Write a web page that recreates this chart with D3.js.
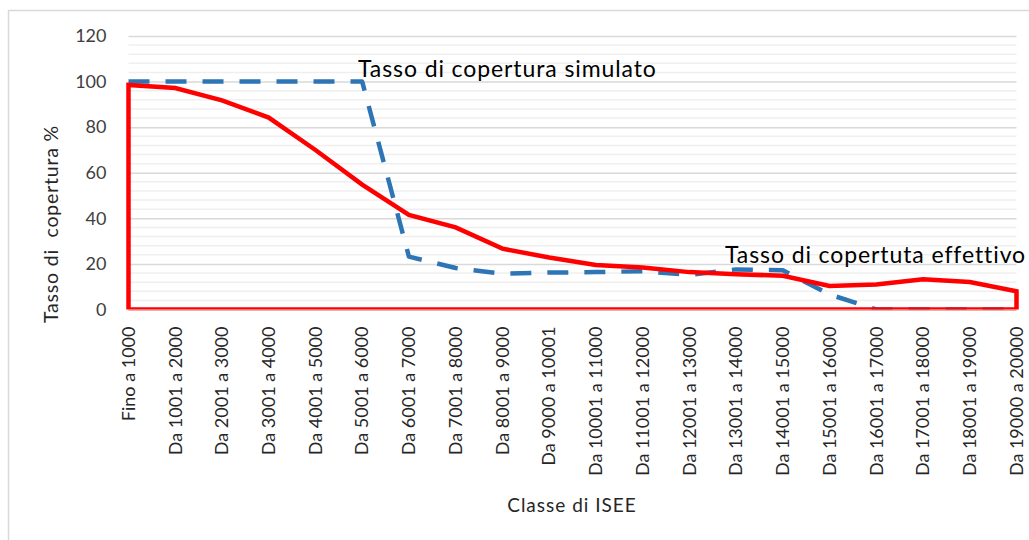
<!DOCTYPE html>
<html>
<head>
<meta charset="utf-8">
<script src="https://cdn.jsdelivr.net/npm/d3@7"></script>
<style>
  html, body { margin: 0; padding: 0; background: #fff; }
  svg { display: block; }
  text { font-family: Lato, "Open Sans", sans-serif; white-space: pre; }
</style>
</head>
<body>
<svg id="chart" width="1029" height="540"></svg>
<script>
// ---- data ----
const categories = [
  "Fino a 1000", "Da 1001 a 2000", "Da 2001 a 3000", "Da 3001 a 4000", "Da 4001 a 5000",
  "Da 5001 a 6000", "Da 6001 a 7000", "Da 7001 a 8000", "Da 8001 a 9000", "Da 9000 a 10001",
  "Da 10001 a 11000", "Da 11001 a 12000", "Da 12001 a 13000", "Da 13001 a 14000", "Da 14001 a 15000",
  "Da 15001 a 16000", "Da 16001 a 17000", "Da 17001 a 18000", "Da 18001 a 19000", "Da 19000 a 20000"
];
const effettivo = [98.5, 97.2, 91.8, 84.2, 70, 54.8, 41.5, 36, 26.7, 22.8, 19.5, 18.4, 16.4, 15.5, 14.8, 10.3, 11, 13.3, 12.1, 8];
const simulato  = [100, 100, 100, 100, 100, 100, 23.2, 18.2, 15.7, 16.2, 16.4, 16.8, 15.2, 17.6, 17.2, 6.6, 0, 0, 0, 0];
const yTicks = [0, 20, 40, 60, 80, 100, 120];
const yMinorTicks = d3.range(0, 121, 4);
const labelSimulato = "Tasso di copertura simulato";
const labelEffettivo = "Tasso di copertuta effettivo";
const yTitle = "Tasso di  copertura %";
const xTitle = "Classe di ISEE";

// ---- layout ----
const svg = d3.select("#chart");
const plot = { left: 128.5, right: 1016.5, top: 36, bottom: 309.5 };

const x = d3.scalePoint().domain(categories).range([plot.left, plot.right]).padding(0);
const y = d3.scaleLinear().domain([0, 120]).range([plot.bottom, plot.top]);

// clip at the plot area bottom (lines at 0 are half hidden)
svg.append("defs").append("clipPath").attr("id", "plotclip")
  .append("rect").attr("x", 0).attr("y", 0).attr("width", 1029).attr("height", plot.bottom);

// outer border (chart area)
svg.append("rect")
  .attr("x", 8.5).attr("y", 10.5).attr("width", 1040).attr("height", 560)
  .attr("fill", "none").attr("stroke", "#d9d9d9").attr("stroke-width", 1.5);

// minor gridlines
svg.append("g").selectAll("line")
  .data(yMinorTicks.filter(d => d % 20 !== 0))
  .join("line")
  .attr("x1", plot.left).attr("x2", plot.right)
  .attr("y1", d => y(d)).attr("y2", d => y(d))
  .attr("stroke", "#efefef").attr("stroke-width", 1.5);

// y axis (major gridlines + labels)
const yAxis = d3.axisLeft(y).tickValues(yTicks).tickSize(-(plot.right - plot.left)).tickPadding(22);
const gy = svg.append("g").attr("transform", `translate(${plot.left},0)`).call(yAxis);
gy.select(".domain").remove();
gy.selectAll(".tick line").attr("stroke", "#d9d9d9").attr("stroke-width", 1.5);
gy.selectAll(".tick text")
  .attr("fill", "#404040").style("font-size", "18px")
  .style("font-family", "Lato, sans-serif");

// x axis baseline
svg.append("line")
  .attr("x1", plot.left).attr("x2", plot.right)
  .attr("y1", y(0) + 1).attr("y2", y(0) + 1)
  .attr("stroke", "#e6b0b0").attr("stroke-width", 1);

// x axis labels
const xAxis = d3.axisBottom(x).tickSize(0).tickPadding(0);
const gx = svg.append("g").attr("transform", `translate(0,${plot.bottom})`).call(xAxis);
gx.select(".domain").remove();
gx.selectAll(".tick text")
  .attr("fill", "#262626").style("font-size", "18px")
  .style("font-family", "Lato, sans-serif")
  .attr("text-anchor", "end")
  .attr("transform", "rotate(-90)")
  .attr("x", -17).attr("y", 0).attr("dy", "0.32em");

// simulato dashed line
const line = d3.line().x((d, i) => x(categories[i])).y(d => y(d));
svg.append("path")
  .datum(simulato)
  .attr("clip-path", "url(#plotclip)")
  .attr("d", line)
  .attr("fill", "none").attr("stroke", "#2e75b6").attr("stroke-width", 4.5)
  .attr("stroke-dasharray", "21,16").attr("stroke-linejoin", "round");

// effettivo area outline (no fill)
const outline = [{ c: categories[0], v: 0 }]
  .concat(effettivo.map((v, i) => ({ c: categories[i], v })))
  .concat([{ c: categories[categories.length - 1], v: 0 }]);
svg.append("path")
  .datum(outline)
  .attr("clip-path", "url(#plotclip)")
  .attr("d", d3.line().x(d => x(d.c)).y(d => y(d.v)).curve(d3.curveLinearClosed))
  .attr("fill", "none").attr("stroke", "#ff0000").attr("stroke-width", 4.5)
  .attr("stroke-linejoin", "miter");

// series labels
svg.append("text").text(labelSimulato)
  .attr("x", 358).attr("y", 77)
  .attr("fill", "#000").style("font-size", "23px").style("letter-spacing", "0.9px");
svg.append("text").text(labelEffettivo)
  .attr("x", 725).attr("y", 263)
  .attr("fill", "#000").style("font-size", "23px").style("letter-spacing", "0.9px");

// axis titles
svg.append("text").text(yTitle)
  .attr("transform", "translate(58,224) rotate(-90)")
  .attr("text-anchor", "middle")
  .attr("fill", "#262626").style("font-size", "19.5px").style("letter-spacing", "0.8px");
svg.append("text").text(xTitle)
  .attr("x", 572).attr("y", 512)
  .attr("text-anchor", "middle")
  .attr("fill", "#262626").style("font-size", "19px").style("letter-spacing", "1px");
</script>
</body>
</html>
